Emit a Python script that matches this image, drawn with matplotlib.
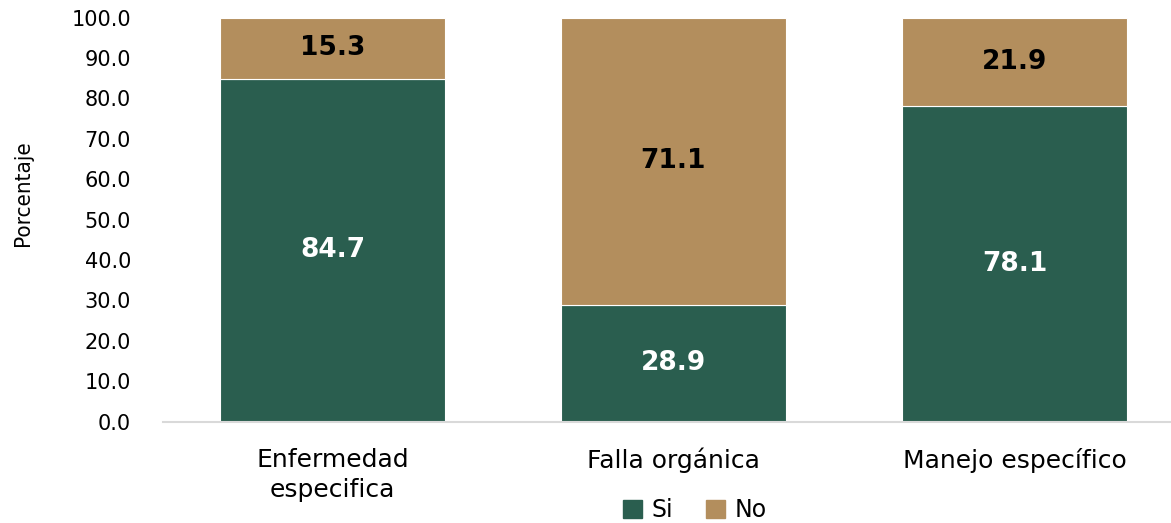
import matplotlib
matplotlib.use("Agg")
import matplotlib.pyplot as plt
from matplotlib.patches import Patch

categories = ["Enfermedad\nespecifica", "Falla orgánica", "Manejo específico"]
si_values = [84.7, 28.9, 78.1]
no_values = [15.3, 71.1, 21.9]
series_names = ["Si", "No"]
yticks = [0, 10, 20, 30, 40, 50, 60, 70, 80, 90, 100]

GREEN = "#2A5E4F"
TAN = "#B38E5D"

plt.rcParams['font.family'] = ['DejaVu Sans']

fig = plt.figure(figsize=(11.71, 5.23), dpi=100)
ax = fig.add_axes([163/1171, 1 - 421.5/523, 1 - 163/1171, (421.5 - 17.5)/523])

x = list(range(len(categories)))
w = 0.66
ax.bar(x, si_values, width=w, color=GREEN, edgecolor="white", linewidth=0.8, label=series_names[0])
ax.bar(x, no_values, width=w, bottom=si_values, color=TAN, edgecolor="white", linewidth=0.8, label=series_names[1])

for i in x:
    ax.text(i, si_values[i] / 2, f"{si_values[i]:.1f}", ha="center", va="center",
            color="white", fontsize=19, fontweight="bold")
    ax.text(i, si_values[i] + no_values[i] / 2, f"{no_values[i]:.1f}", ha="center", va="center",
            color="black", fontsize=19, fontweight="bold")

ax.set_xlim(-0.497, 2.459)
ax.set_ylim(0, 100)
ax.set_yticks(yticks)
ax.set_yticklabels([f"{v:.1f}" for v in yticks], fontsize=15)
ax.set_xticks(x)
ax.set_xticklabels(categories, fontsize=18, linespacing=1.3)
ax.tick_params(axis="both", length=0)
ax.tick_params(axis="y", pad=23)
ax.tick_params(axis="x", pad=19)
for s in ["top", "right", "left"]:
    ax.spines[s].set_visible(False)
ax.spines["bottom"].set_color("#D9D9D9")
ax.spines["bottom"].set_linewidth(1.5)

ax.set_ylabel("Porcentaje", fontsize=16, family="DejaVu Sans", fontstretch="condensed")
ax.yaxis.set_label_coords(-0.129, 0.566)

handles = [Patch(color=GREEN, label=series_names[0]), Patch(color=TAN, label=series_names[1])]
fig.legend(handles=handles, loc="center", bbox_to_anchor=(695/1171, 1 - 510/523), ncol=2,
           frameon=False, fontsize=17, handlelength=0.8, handleheight=0.8, handletextpad=0.4,
           columnspacing=1.4)

fig.savefig("out.png", dpi=100)
